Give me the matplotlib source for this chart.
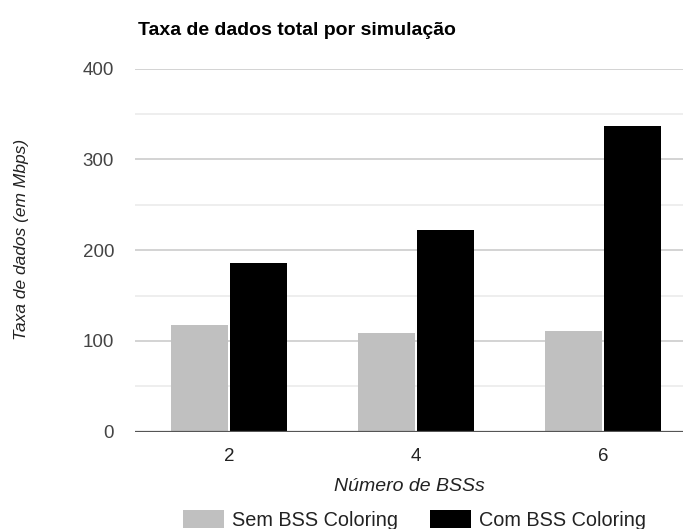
import numpy as np
import matplotlib
matplotlib.use('Agg')
import matplotlib.pyplot as plt
from matplotlib.ticker import MultipleLocator

plt.rcParams['font.family'] = ['Liberation Sans', 'DejaVu Sans']

# throughput per simulation (Mbps)
bss_counts = ['2', '4', '6']
sem_coloring = [117, 109, 111]
com_coloring = [186, 222, 337]
series_names = ['Sem BSS Coloring', 'Com BSS Coloring']

fig = plt.figure(figsize=(6.83, 5.29), dpi=100)
ax = fig.add_axes([0.1977, 0.1839, 0.8023, 0.6866])

x = np.arange(len(bss_counts))
w = 0.303
off = 0.158
ax.bar(x - off, sem_coloring, w, color='#c0c0c0', label=series_names[0], zorder=3)
ax.bar(x + off, com_coloring, w, color='#000000', label=series_names[1], zorder=3)

ax.set_xlim(-0.503, 2.429)
ax.set_ylim(0, 400)
ax.yaxis.set_major_locator(MultipleLocator(100))
ax.yaxis.set_minor_locator(MultipleLocator(50))
ax.grid(axis='y', which='major', color='#cccccc', linewidth=1.2, zorder=0)
ax.grid(axis='y', which='minor', color='#ebebeb', linewidth=1.2, zorder=0)
ax.axhline(0, color='#555555', linewidth=1.6, zorder=4)

for s in ax.spines.values():
    s.set_visible(False)
ax.tick_params(axis='both', which='both', length=0)
ax.tick_params(axis='y', pad=15, labelsize=13.5, labelcolor='#444444')
ax.tick_params(axis='x', pad=12, labelsize=13.5, labelcolor='#222222')
ax.set_xticks(x)
ax.set_xticklabels(bss_counts)

ax.set_xlabel('Número de BSSs', fontsize=14, style='italic', color='#222222', labelpad=9)
fig.text(0.031, 0.548, 'Taxa de dados (em Mbps)', rotation=90, fontsize=12.5,
         style='italic', color='#222222', ha='center', va='center')

fig.text(138 / 683, 1 - 35 / 529, 'Taxa de dados total por simulação', fontsize=14,
         fontweight='bold', color='#000000', ha='left', va='baseline')

fig.legend(loc='center', bbox_to_anchor=(0.607, 0.017), ncol=2, frameon=False,
           fontsize=14.3, handlelength=2.06, handleheight=1.0, handletextpad=0.4,
           columnspacing=1.6, labelcolor='#222222', borderaxespad=0)

fig.savefig('out.png', dpi=100)
